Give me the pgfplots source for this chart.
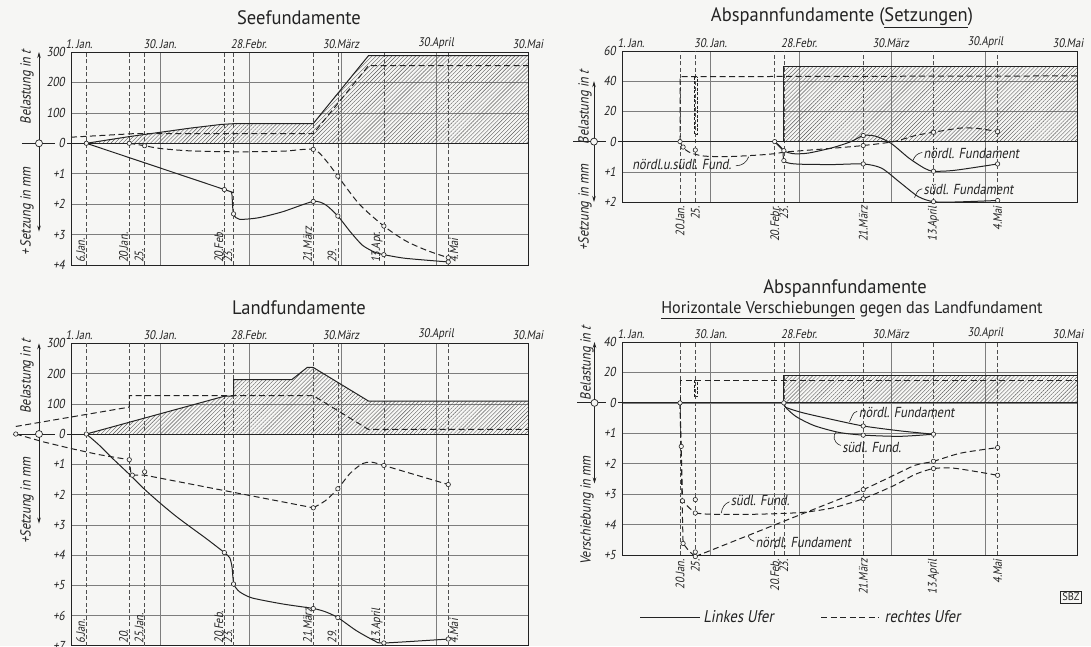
\documentclass[border=0pt]{standalone}
\usepackage{fontspec}
\usepackage{pgfplots}
\pgfplotsset{compat=1.18}
\usetikzlibrary{patterns.meta,arrows.meta}
\setmainfont{PT Sans}
\newfontfamily\nf{PT Sans}[FakeStretch=0.86,FakeSlant=0.18]
\newfontfamily\tf{PT Sans}[FakeStretch=0.95]
\definecolor{paper}{RGB}{246,246,244}
\definecolor{ink}{RGB}{35,35,35}
\definecolor{gridc}{RGB}{125,125,125}
\newcommand{\fs}[1]{\fontsize{#1}{#1}\selectfont}

\pgfplotsset{
 panel/.style={
  scale only axis, clip=false, anchor=south west,
  xmin=1, xmax=150,
  axis line style={draw=ink, line width=0.7pt},
  xtick={1,30,59,89,120,150},
  xticklabels={\hspace*{16pt}1.\,Jan.,30.\,Jan.,28.Febr.,30.März,30.April,30.Mai},
  xticklabel pos=upper,
  xticklabel style={font=\nf\fs{12.5}, text=ink, inner sep=1pt, yshift=2pt},
  yticklabel style={font=\nf\fs{13}, text=ink, inner sep=0pt, anchor=east, xshift=-6pt},
  major tick length=0pt,
  xmajorgrids, ymajorgrids,
  major grid style={gridc, line width=0.45pt},
  extra x tick style={xmajorgrids=true, major grid style={ink!80, line width=0.5pt, dash pattern=on 4pt off 2.5pt}},
 },
 rightpanel/.style={xticklabels={\hspace*{18pt}1.\,Jan.,30.\,Jan.,28.Febr.,30.März,30.April,30.Mai\hspace*{18pt}}},
 last/.style={y filter/.expression={y/#1}},
 setz/.style={y filter/.expression={-y}},
 lu/.style={ink, line width=1pt, no marks},
 ru/.style={ink, line width=1pt, no marks, dash pattern=on 6pt off 3.5pt},
 pts/.style={only marks, mark=*, mark size=2.2pt, mark options={fill=paper, draw=ink, line width=0.6pt, solid}},
 hatch/.style={draw=none, pattern={Lines[angle=45,distance=2.8pt,line width=0.4pt]}, pattern color=ink!75},
}
\tikzset{dlab/.style={rotate=90, font=\nf\fs{12.3}, text=ink, inner sep=1pt},
 ann/.style={font=\nf\fs{14.5}, text=ink, inner sep=0.5pt},
 lead/.style={ink, line width=0.6pt}}

\newcommand{\deco}[9]{%
 \draw[ink, line width=0.8pt] ([xshift=-#1pt]axis cs:1,0) -- ([xshift=-16pt]axis cs:1,0);
 \draw[ink, line width=0.8pt] ([xshift=-4pt]axis cs:1,0) -- (axis cs:150,0);
 \draw[ink, line width=0.7pt, -{Stealth[length=6pt,width=3.5pt]}] ([xshift=-#2pt]axis cs:1,0) -- ([xshift=-#2pt]axis cs:1,#3);
 \draw[ink, line width=0.7pt, -{Stealth[length=6pt,width=3.5pt]}] ([xshift=-#2pt]axis cs:1,0) -- ([xshift=-#2pt]axis cs:1,#4);
 \node[circle, draw=ink, fill=paper, line width=0.7pt, inner sep=0pt, minimum size=7pt] at ([xshift=-#2pt]axis cs:1,0) {};
 \node[rotate=90, font=\nf\fs{14.5}, text=ink] at ([xshift=-#5pt]axis cs:1,#6) {#7};
 \node[rotate=90, font=\nf\fs{14.5}, text=ink] at ([xshift=-#5pt]axis cs:1,#8) {#9};
}

\begin{document}
\begin{tikzpicture}
\useasboundingbox (0,0) rectangle (1091pt,646pt);
\fill[paper] (0,0) rectangle (1091pt,646pt);

% titles
\node[font=\tf\fs{19.5}, text=ink] at (299pt,628pt) {Seefundamente};
\node[font=\tf\fs{19.5}, text=ink] at (299pt,338pt) {Landfundamente};
\node[font=\tf\fs{19.5}, text=ink] at (842pt,628pt) {Abspannfundamente (\underline{Setzungen})};
\node[font=\tf\fs{19.5}, text=ink] at (845pt,357pt) {Abspannfundamente};
\node[font=\tf\fs{17}, text=ink] at (852pt,336pt) {\underline{Horizontale Verschiebungen} gegen das Landfundament};
\node[draw=ink, line width=0.6pt, font=\tf\fs{11}, text=ink, inner sep=2pt] at (1071pt,49pt) {SBZ};

%================ Seefundamente
\begin{axis}[panel, at={(71pt,381pt)}, width=457pt, height=213pt, ymin=-4, ymax=3,
 ytick={-4,-3,-2,-1,0,1,2,3}, yticklabels={+4,+3,+2,+1,0,100,200,300},
 extra x ticks={6,20,25,51,54,80,88,103,124}, extra x tick labels={}]
\addplot[hatch, last=100] coordinates {(6,0) (20,22) (30,36) (40,50) (50,62) (55,65) (80,65) (98,288) (150,288) (150,0)} --cycle;
\deco{49}{32}{3}{-2.9}{44}{1.84}{Belastung in \textit{t}}{-2.24}{+\,Setzung in mm}
\addplot[lu, last=100] coordinates {(6,0) (20,22) (30,36) (40,50) (50,62) (55,65) (80,65) (98,288) (150,288)};
\addplot[ru, last=100] coordinates {(1,20) (22,32) (80,32) (98,255) (150,255)};
\addplot[lu, setz, smooth, tension=0.4] coordinates {(6,0) (51,1.52) (53.3,1.62) (53.6,1.9) (53.8,2.2) (54.2,2.38) (56,2.5) (62,2.45) (70,2.25) (80,1.91) (84,2.02) (88,2.39) (92,2.9) (96,3.35) (100,3.58) (103,3.66) (110,3.78) (124,3.9)};
\addplot[ru, setz, smooth, tension=0.45] coordinates {(20,0) (25,0.08) (30,0.17) (40,0.25) (55,0.28) (70,0.26) (80,0.2) (84,0.55) (88,1.08) (95,2.0) (103,2.72) (110,3.2) (117,3.52) (124,3.76)};
\addplot[pts, setz] coordinates {(6,0) (51,1.52) (54,2.32) (80,1.91) (88,2.39) (103,3.66) (124,3.9)};
\addplot[pts, setz] coordinates {(20,0) (25,0.08) (80,0.2) (88,1.08) (103,2.72) (124,3.76)};
\node[dlab, anchor=south west] at (axis cs:6,-3.97) {6.Jan.};
\node[dlab, anchor=south west] at (axis cs:20,-3.97) {20.Jan.};
\node[dlab, anchor=south west] at (axis cs:25,-3.97) {25.};
\node[dlab, anchor=south west] at (axis cs:51,-3.97) {20.Feb.};
\node[dlab, anchor=south west] at (axis cs:54,-3.97) {23.};
\node[dlab, anchor=south west] at (axis cs:80,-3.97) {21.März};
\node[dlab, anchor=south west] at (axis cs:88,-3.97) {29.};
\node[dlab, anchor=south west] at (axis cs:103,-3.97) {13.Apr.};
\node[dlab, anchor=north west] at (axis cs:124,-3.97) {4.Mai};
\end{axis}

%================ Landfundamente
\begin{axis}[panel, at={(71pt,0.3pt)}, width=457pt, height=302.4pt, ymin=-7, ymax=3,
 ytick={-7,-6,-5,-4,-3,-2,-1,0,1,2,3}, yticklabels={+7,+6,+5,+4,+3,+2,+1,0,100,200,300},
 extra x ticks={6,20,25,51,54,80,88,103,124}, extra x tick labels={}]
\addplot[hatch, last=100] coordinates {(6,0) (51,125) (54,125) (54,180) (73,180) (78,220) (80,220) (98,109) (150,109) (150,0)} --cycle;
\deco{58}{32}{3}{-2.96}{44}{1.9}{Belastung in \textit{t}}{-2.2}{+Setzung in mm}
\addplot[lu, last=100] coordinates {(6,0) (51,125) (54,125) (54,180) (73,180) (78,220) (80,220) (98,109) (150,109)};
\addplot[ru, last=100] coordinates {(-17,25) (20,89) (20,127) (80,127) (98,15) (150,15)};
\addplot[lu, setz, smooth, tension=0.4] coordinates {(6,0) (10,0.35) (15,0.85) (20,1.33) (25,1.83) (30,2.28) (35,2.7) (40,3.08) (45,3.45) (51,3.92) (52.8,4.1) (53.5,4.4) (53.8,4.75) (54.2,5.0) (56,5.22) (60,5.42) (70,5.62) (80,5.77) (84,5.88) (88,6.07) (94,6.5) (100,6.84) (103,6.91) (124,6.78)};
\addplot[ru, setz] coordinates {(-17,0) (-8,0.26) (1,0.48) (10,0.68) (20,0.85) (20.3,1.1) (20.6,1.36) (25,1.36) (80,2.44)};
\addplot[ru, setz, smooth, tension=0.45] coordinates {(80,2.44) (84,2.2) (88,1.81) (92,1.3) (96,0.98) (99,0.93) (103,1.04) (110,1.25) (124,1.67)};
\addplot[pts, setz] coordinates {(6,0) (51,3.92) (54,4.96) (80,5.77) (88,6.07) (103,6.91) (124,6.78)};
\addplot[pts, setz] coordinates {(-17,0) (20,0.85) (21,1.36) (25,1.25) (80,2.44) (88,1.81) (103,1.04) (124,1.67)};
\node[dlab, anchor=south west] at (axis cs:6,-6.97) {6.Jan.};
\node[dlab, anchor=south west] at (axis cs:20,-6.97) {20.};
\node[dlab, anchor=south west] at (axis cs:25,-6.97) {25.Jan.};
\node[dlab, anchor=south west] at (axis cs:51,-6.97) {20.Feb.};
\node[dlab, anchor=south west] at (axis cs:54,-6.97) {23.};
\node[dlab, anchor=south west] at (axis cs:80,-6.97) {21.März};
\node[dlab, anchor=south west] at (axis cs:88,-6.97) {29.};
\node[dlab, anchor=south west] at (axis cs:103,-6.97) {13.April};
\node[dlab, anchor=north west] at (axis cs:124,-6.97) {4.Mai};
\end{axis}

%================ Abspannfundamente (Setzungen)
\begin{axis}[panel, rightpanel, at={(622pt,444pt)}, width=455pt, height=151pt, ymin=-2, ymax=3,
 ytick={-2,-1,0,1,2,3}, yticklabels={+2,+1,0,20,40,60},
 extra x ticks={20,25,51,54,80,103,124}, extra x tick labels={}]
\addplot[hatch, last=20] coordinates {(54,0) (54,50) (150,50) (150,0)} --cycle;
\deco{49}{28}{2}{-2}{37}{1.14}{Belastung in \textit{t}}{-2.18}{+Setzung in mm}
\addplot[lu, last=20] coordinates {(54,0) (54,50) (150,50)};
\addplot[ru, last=20] coordinates {(20,0) (20,43) (150,43.5)};
\addplot[ink, line width=0.8pt, no marks, dash pattern=on 3pt off 1.5pt, last=20] coordinates {(24.7,43) (24.7,5) (25.7,5) (25.7,43)};
\addplot[ru, setz, smooth, tension=0.45] coordinates {(20,0) (21,0.2) (23,0.35) (25,0.42) (28,0.48) (35,0.5) (45,0.45) (51,0.4) (54,0.35) (60,0.3) (70,0.22) (80,0.13) (90,0.0) (97,-0.2) (103,-0.31) (112,-0.45) (118,-0.43) (124,-0.33)};
\addplot[lu, setz, smooth, tension=0.45] coordinates {(51,0) (54,0.3) (57,0.4) (62,0.38) (70,0.2) (76,0.0) (80,-0.2) (84,-0.18) (89,0.05) (95,0.55) (100,0.88) (103,0.98) (110,0.95) (124,0.74)};
\addplot[lu, setz, smooth, tension=0.45] coordinates {(51,0) (53.5,0.25) (54,0.63) (56,0.72) (60,0.75) (70,0.76) (80,0.74) (86,0.88) (92,1.35) (98,1.82) (103,1.99) (110,2.0) (124,1.95)};
\addplot[pts, setz] coordinates {(20,0) (21,0.18) (25,0.28) (80,0.13) (103,-0.31) (124,-0.33)};
\addplot[pts, setz] coordinates {(51,0) (54,0.3) (54,0.63) (80,-0.2) (80,0.74) (103,0.98) (103,1.99) (124,0.74) (124,1.95)};
\node[ann] at (axis cs:20.6,-0.76) {nördl.u.südl. Fund.};
\draw[lead] (axis cs:38.3,-0.8) to[out=0,in=-110] (axis cs:42.5,-0.5);
\node[ann, anchor=west] at (axis cs:99.5,-0.39) {nördl. Fundament};
\draw[lead] (axis cs:99.3,-0.36) to[out=190,in=70] (axis cs:96.3,-0.62);
\node[ann, anchor=west] at (axis cs:99.5,-1.59) {südl. Fundament};
\draw[lead] (axis cs:99.3,-1.56) to[out=190,in=70] (axis cs:96.8,-1.86);
\node[dlab, anchor=east] at ([yshift=-3pt]axis cs:20,-2) {20.Jan.};
\node[dlab, anchor=east] at ([yshift=-3pt]axis cs:25,-2) {25.};
\node[dlab, anchor=east] at ([yshift=-3pt]axis cs:51,-2) {20.Febr.};
\node[dlab, anchor=east] at ([yshift=-3pt]axis cs:54,-2) {23.};
\node[dlab, anchor=east] at ([yshift=-3pt]axis cs:80,-2) {21.März};
\node[dlab, anchor=east] at ([yshift=-3pt]axis cs:103,-2) {13.April};
\node[dlab, anchor=east] at ([yshift=-3pt]axis cs:124,-2) {4.Mai};
\end{axis}

%================ Abspannfundamente horizontal
\begin{axis}[panel, rightpanel, at={(622pt,91pt)}, width=455pt, height=213pt, ymin=-5, ymax=2,
 ytick={-5,-4,-3,-2,-1,0,1,2}, yticklabels={+5,+4,+3,+2,+1,0,20,40},
 extra x ticks={20,25,51,54,80,103,124}, extra x tick labels={}]
\addplot[hatch, last=20] coordinates {(54,0) (54,18) (150,18) (150,0)} --cycle;
\deco{45}{27.5}{2}{-2.65}{35}{1.3}{Belastung in \textit{t}}{-3.53}{Verschiebung in mm}
\addplot[lu, last=20] coordinates {(54,0) (54,18) (150,18)};
\addplot[ru, last=20] coordinates {(20,0) (20,15) (150,15)};
\addplot[ink, line width=0.8pt, no marks, dash pattern=on 3pt off 1.5pt, last=20] coordinates {(24.7,15) (24.7,4) (25.7,4) (25.7,15)};
\addplot[lu, setz, smooth, tension=0.45] coordinates {(54,0) (54.5,0.14) (60,0.32) (70,0.55) (80,0.76) (92,0.92) (103,1.03)};
\addplot[lu, setz, smooth, tension=0.45] coordinates {(54,0) (54.5,0.14) (58,0.45) (64,0.75) (72,0.97) (80,1.06) (92,1.1) (103,1.03)};
\addplot[ru, setz] coordinates {(20,0) (20.4,1.43) (20.8,3.22) (23,3.45) (25,3.62)};
\addplot[ru, setz, smooth, tension=0.45] coordinates {(25,3.62) (30,3.66) (45,3.66) (60,3.6) (70,3.45) (80,3.15) (90,2.72) (97,2.35) (103,2.16) (110,2.15) (124,2.38)};
\addplot[ru, setz] coordinates {(20,0) (20.5,2.5) (21,4.62) (23,4.88) (25,5.05)};
\addplot[ru, setz, smooth, tension=0.45] coordinates {(25,5.05) (35,4.65) (50,4.05) (65,3.45) (80,2.85) (90,2.38) (97,2.05) (103,1.92) (112,1.65) (124,1.47)};
\addplot[pts, setz] coordinates {(54,0) (80,0.76) (80,1.06) (103,1.03)};
\addplot[pts, setz] coordinates {(20,0) (20.4,1.43) (20.8,3.22) (21,4.62) (25,3.18) (25,3.62) (25,4.9) (25,5.05) (80,2.85) (80,3.15) (103,1.92) (103,2.16) (124,1.47) (124,2.38)};
\node[ann, anchor=west] at (axis cs:78.3,-0.3) {nördl. Fundament};
\draw[lead] (axis cs:78,-0.28) to[out=190,in=60] (axis cs:75.5,-0.62);
\node[ann, anchor=west] at (axis cs:72.9,-1.48) {südl. Fund.};
\draw[lead] (axis cs:72.6,-1.40) .. controls (axis cs:70,-1.3) and (axis cs:70,-1.05) .. (axis cs:71.2,-0.95);
\node[ann, anchor=west] at (axis cs:36.4,-3.2) {südl. Fund.};
\draw[lead] (axis cs:36.2,-3.25) to[out=200,in=80] (axis cs:33.5,-3.62);
\node[ann, anchor=west] at (axis cs:44.5,-4.6) {nördl. Fundament};
\draw[lead] (axis cs:44.3,-4.55) to[out=160,in=-70] (axis cs:42.3,-4.38);
\node[dlab, anchor=east] at ([yshift=-3pt]axis cs:20,-5) {20.Jan.};
\node[dlab, anchor=east] at ([yshift=-3pt]axis cs:25,-5) {25.};
\node[dlab, anchor=east] at ([yshift=-3pt]axis cs:51,-5) {20.Feb.};
\node[dlab, anchor=east] at ([yshift=-3pt]axis cs:54,-5) {23.};
\node[dlab, anchor=east] at ([yshift=-3pt]axis cs:80,-5) {21.März};
\node[dlab, anchor=east] at ([yshift=-3pt]axis cs:103,-5) {13.April};
\node[dlab, anchor=east] at ([yshift=-3pt]axis cs:124,-5) {4.Mai};
% legend
\draw[ink, line width=1pt] (axis cs:6.9,-7.04) -- (axis cs:26.5,-7.04);
\node[font=\nf\fs{17}, text=ink, anchor=west, inner sep=0.5pt] at (axis cs:27.4,-7.04) {Linkes Ufer};
\draw[ink, line width=1pt, dash pattern=on 6pt off 3.5pt] (axis cs:66.2,-7.04) -- (axis cs:85.2,-7.04);
\node[font=\nf\fs{17}, text=ink, anchor=west, inner sep=0.5pt] at (axis cs:86.8,-7.04) {rechtes Ufer};
\end{axis}
\end{tikzpicture}
\end{document}
